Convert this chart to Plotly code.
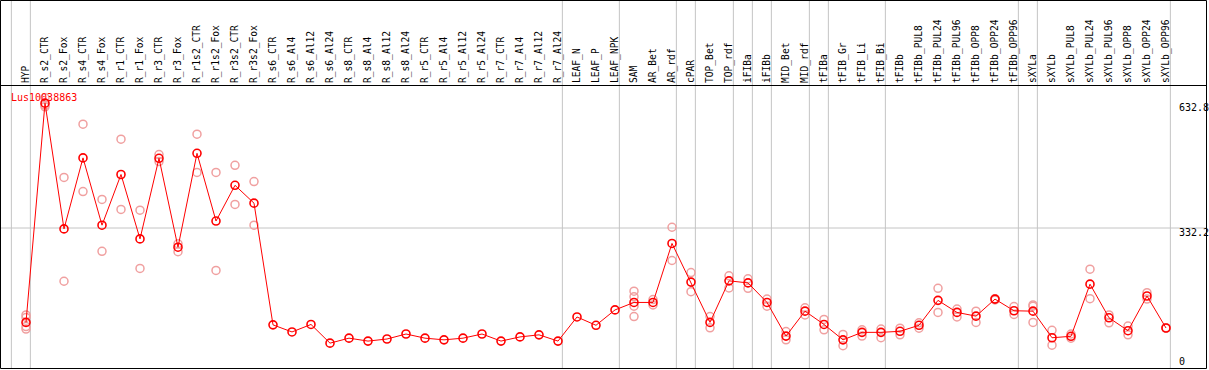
import plotly.graph_objects as go

categories = ["HYP", "R_s2_CTR", "R_s2_Fox", "R_s4_CTR", "R_s4_Fox", "R_r1_CTR", "R_r1_Fox",
              "R_r3_CTR", "R_r3_Fox", "R_r1s2_CTR", "R_r1s2_Fox", "R_r3s2_CTR", "R_r3s2_Fox",
              "R_s6_CTR", "R_s6_Al4", "R_s6_Al12", "R_s6_Al24", "R_s8_CTR", "R_s8_Al4",
              "R_s8_Al12", "R_s8_Al24", "R_r5_CTR", "R_r5_Al4", "R_r5_Al12", "R_r5_Al24",
              "R_r7_CTR", "R_r7_Al4", "R_r7_Al12", "R_r7_Al24", "LEAF_N", "LEAF_P", "LEAF_NPK",
              "SAM", "AR_Bet", "AR_rdf", "cPAR", "TOP_Bet", "TOP_rdf", "iFIBa", "iFIBb",
              "MID_Bet", "MID_rdf", "tFIBa", "tFIB_Gr", "tFIB_Li", "tFIB_Bi", "tFIBb",
              "tFIBb_PUL8", "tFIBb_PUL24", "tFIBb_PUL96", "tFIBb_OPP8", "tFIBb_OPP24",
              "tFIBb_OPP96", "sXYLa", "sXYLb", "sXYLb_PUL8", "sXYLb_PUL24", "sXYLb_PUL96",
              "sXYLb_OPP8", "sXYLb_OPP24", "sXYLb_OPP96"]

mean_vals = [105, 632.8, 330, 501, 339, 461, 306, 500, 286, 512, 349, 435, 392,
             99, 82, 100, 55, 67, 60, 65, 77, 67, 63, 67, 77, 60, 70, 75, 60, 118, 98, 135,
             153, 153, 295, 202, 105, 205, 200, 153, 72, 132, 100, 63, 81, 81, 83.5,
             98, 158, 129, 120, 161, 133, 132, 68, 71.5, 197, 116, 85, 168.5, 91.5]

N = None
rep1 = [123, 646, 454, 582, 401, 546, 375, 509, 294, 558, 466, 483, 444,
        N, N, N, N, N, N, N, N, N, N, N, N, N, N, N, N, N, N, N,
        180, 160, 334, 225, 119, 217, 210, 161, 83, 140, 112, 76, 87, 89, 91,
        104, 187, 137, 132, 162, 143, 147, 86, 77, 233, 123, 96, 176.5, 92]
rep2 = [117, 628, 204, 420, 276, 377, 235, 492, 275, 466, 230, 389, 339,
        N, N, N, N, N, N, N, N, N, N, N, N, N, N, N, N, N, N, N,
        167, 147, 254, 179, 92, 188, 187, 144, 63, 123, 87, 49, 72, 68, 75,
        91, 129, 118, 105, 159, 124, 144, 50, 67, 162, 104, 75, 161, 91]
rep3 = [95, 624, N, N, N, N, N, N, N, N, N, N, N,
        N, N, N, N, N, N, N, N, N, N, N, N, N, N, N, N, N, N, N,
        144, N, N, N, N, N, N, N, N, N, N, N, N, N, N,
        N, N, N, N, N, N, 105, N, N, N, N, N, N, N]
rep4 = [89, N, N, N, N, N, N, N, N, N, N, N, N,
        N, N, N, N, N, N, N, N, N, N, N, N, N, N, N, N, N, N, N,
        119, N, N, N, N, N, N, N, N, N, N, N, N, N, N,
        N, N, N, N, N, N, N, N, N, N, N, N, N, N]

group_ends = [-1, 0, 28, 31, 34, 35, 37, 38, 39, 41, 42, 45, 52, 53, 60]
y_ticks = [632.8, 332.2, 0]
y_tick_labels = ["632.8", "332.2", "0"]
gene = "Lus10038863"

W, H = 1209, 370
T, B = 86, 1
PH = H - T - B
xi = list(range(len(categories)))


def pxx(p):
    return p / W


def pxy(p):
    return (H - B - p) / PH


FONT = "DejaVu Sans Mono"
fig = go.Figure()
for reps in (rep1, rep2, rep3, rep4):
    fig.add_trace(go.Scatter(x=xi, y=reps, mode="markers",
                             marker=dict(symbol="circle-open", size=8, color="#f0a0a0",
                                         line=dict(width=1.5, color="#f0a0a0")),
                             hoverinfo="skip", showlegend=False))
fig.add_trace(go.Scatter(x=xi, y=mean_vals, mode="lines+markers",
                         line=dict(color="#ff0000", width=1),
                         marker=dict(symbol="circle-open", size=8, color="#ff0000",
                                     line=dict(width=1.6, color="#ff0000")),
                         showlegend=False))

shapes = []
for g in group_ends:
    shapes.append(dict(type="line", xref="x", yref="paper", x0=g + 0.23, x1=g + 0.23,
                       y0=0, y1=pxy(0), line=dict(color="#c4c4c4", width=1), layer="below"))
shapes.append(dict(type="line", xref="paper", yref="y", x0=0, x1=pxx(1207), y0=y_ticks[1],
                   y1=y_ticks[1], line=dict(color="#c4c4c4", width=1), layer="below"))
shapes.append(dict(type="rect", xref="paper", yref="paper", x0=pxx(0.5), x1=pxx(1206.5),
                   y0=pxy(368.5), y1=pxy(0.5), line=dict(color="black", width=1)))
shapes.append(dict(type="line", xref="paper", yref="paper", x0=pxx(0), x1=pxx(1207),
                   y0=pxy(85.5), y1=pxy(85.5), line=dict(color="black", width=1)))

annotations = [dict(xref="paper", yref="paper", x=pxx(9), y=pxy(97), text=gene,
                    showarrow=False, xanchor="left", yanchor="middle",
                    font=dict(family=FONT, size=10, color="#ff0000"))]
shifts = [-4, -4, 5]
for v, t, s in zip(y_ticks, y_tick_labels, shifts):
    annotations.append(dict(xref="paper", yref="y", x=pxx(1177), y=v, yshift=s, text=t,
                            showarrow=False, xanchor="left", yanchor="middle",
                            font=dict(family=FONT, size=10, color="black")))

fig.update_layout(
    width=W, height=H,
    margin=dict(l=0, r=0, t=T, b=B, pad=0),
    paper_bgcolor="white", plot_bgcolor="white",
    shapes=shapes, annotations=annotations,
    xaxis=dict(range=[-26 / 19, (W - 26) / 19], side="top", tickmode="array",
               tickvals=xi, ticktext=categories, tickangle=-90, ticks="",
               ticklabelstandoff=2,
               showgrid=False, zeroline=False, showline=False,
               tickfont=dict(family=FONT, size=9.6, color="black"), automargin=False),
    yaxis=dict(range=[(366 - 369) / (138 / 332.2), (366 - 86) / (138 / 332.2)],
               showticklabels=False, showgrid=False, zeroline=False, showline=False,
               ticks=""),
)

fig.write_html("out.html", config={"displayModeBar": False},
               post_script="document.body.style.margin='0px';document.body.style.overflow='hidden';")
